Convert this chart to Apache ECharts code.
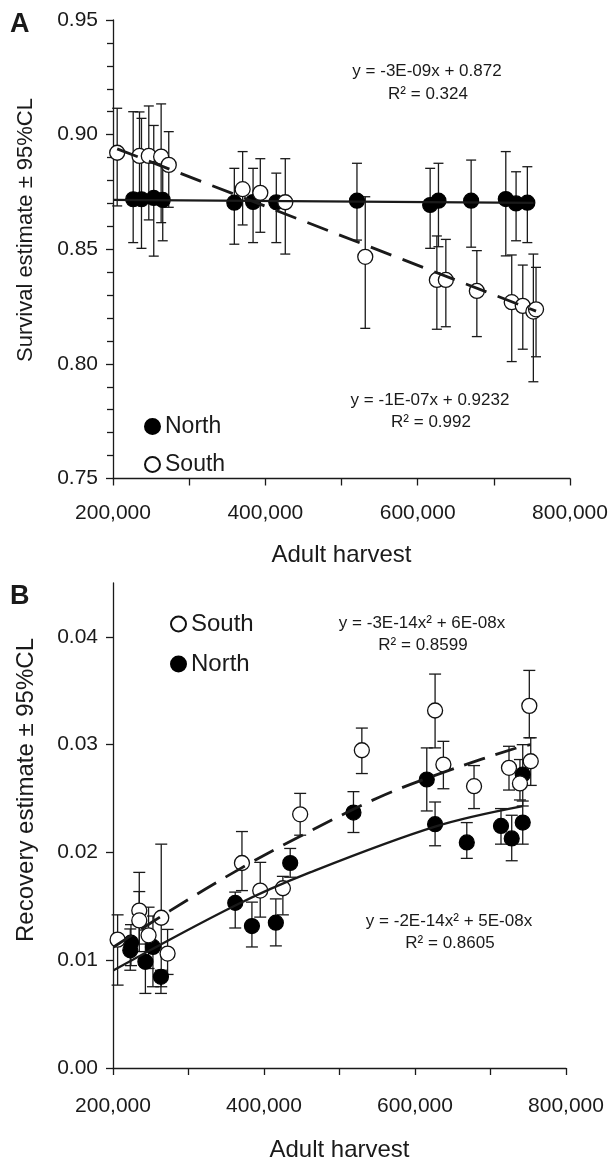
<!DOCTYPE html>
<html>
<head>
<meta charset="utf-8">
<script src="https://cdn.jsdelivr.net/npm/echarts@6/dist/echarts.min.js"></script>
<style>
  html, body { margin: 0; padding: 0; background: #fff; }
  #chart { width: 612px; height: 1163px; }
</style>
</head>
<body>
<div id="chart"></div>
<script>
// ---------- Panel A: survival estimate vs adult harvest ----------
const survNorthX  = [226500, 237400, 253500, 265300, 359300, 383900, 414400, 520300, 616400, 627300, 670200, 715700, 729200, 744000];
const survNorthY  = [0.8718, 0.8718, 0.8724, 0.8715, 0.8703, 0.8706, 0.8705, 0.8712, 0.8693, 0.8712, 0.8712, 0.8719, 0.8700, 0.8703];
const survNorthLo = [0.8529, 0.8504, 0.8470, 0.8537, 0.8522, 0.8529, 0.8529, 0.8540, 0.8504, 0.8511, 0.8509, 0.8471, 0.8537, 0.8529];
const survNorthHi = [0.9100, 0.9071, 0.9040, 0.8895, 0.8853, 0.8853, 0.8832, 0.8875, 0.8853, 0.8875, 0.8889, 0.8926, 0.8838, 0.8860];

const survSouthX  = [205500, 234800, 247000, 263200, 273200, 370200, 393400, 426200, 531200, 625200, 637000, 677700, 723500, 738000, 751900, 755400];
const survSouthY  = [0.8921, 0.8907, 0.8907, 0.8904, 0.8868, 0.8762, 0.8746, 0.8705, 0.8467, 0.8366, 0.8366, 0.8318, 0.8269, 0.8253, 0.8228, 0.8238];
const survSouthLo = [0.8689, 0.8700, 0.8628, 0.8616, 0.8683, 0.8606, 0.8574, 0.8479, 0.8155, 0.8151, 0.8162, 0.8119, 0.8010, 0.8064, 0.7922, 0.8031];
const survSouthHi = [0.9115, 0.9099, 0.9125, 0.9134, 0.9013, 0.8926, 0.8895, 0.8895, 0.8729, 0.8558, 0.8543, 0.8494, 0.8475, 0.8431, 0.8479, 0.8421];

// fitted trend lines (end points)
const survNorthFitX = [200000, 752000];
const survNorthFitY = [0.8715, 0.8702];
const survSouthFitX = [205500, 755400];
const survSouthFitY = [0.8938, 0.8230];

const survTicks = [0.75, 0.80, 0.85, 0.90, 0.95];

// ---------- Panel B: recovery estimate vs adult harvest ----------
const recNorthX  = [223800, 222900, 242900, 252900, 263500, 361900, 384000, 415700, 434700, 518500, 615600, 626600, 668600, 713900, 728100, 742700, 742700];
const recNorthY  = [0.01163, 0.01092, 0.00985, 0.01123, 0.00846, 0.01532, 0.01317, 0.01348, 0.01902, 0.02370, 0.02677, 0.02262, 0.02093, 0.02246, 0.02130, 0.02277, 0.02723];
const recNorthLo = [0.00950, 0.00907, 0.00692, 0.00754, 0.00692, 0.01299, 0.01123, 0.01133, 0.01770, 0.02185, 0.02385, 0.02062, 0.01945, 0.02077, 0.01923, 0.02077, 0.02431];
const recNorthHi = [0.01330, 0.01290, 0.01280, 0.01410, 0.00907, 0.01632, 0.01539, 0.01569, 0.02037, 0.02564, 0.02970, 0.02468, 0.02277, 0.02407, 0.02345, 0.02477, 0.03000];

const recSouthX  = [206100, 234800, 234800, 247100, 263900, 272300, 370800, 395000, 425000, 447900, 529600, 626600, 637600, 678200, 724500, 739000, 751400, 753300];
const recSouthY  = [0.01191, 0.01461, 0.01369, 0.01231, 0.01394, 0.01062, 0.01902, 0.01646, 0.01668, 0.02354, 0.02948, 0.03317, 0.02815, 0.02615, 0.02785, 0.02640, 0.03360, 0.02846];
const recSouthLo = [0.00769, 0.01150, 0.01080, 0.00923, 0.00754, 0.00868, 0.01646, 0.01400, 0.01421, 0.02160, 0.02732, 0.02970, 0.02591, 0.02407, 0.02579, 0.02487, 0.03064, 0.02622];
const recSouthHi = [0.01421, 0.01815, 0.01637, 0.01492, 0.02077, 0.01286, 0.02194, 0.01908, 0.01778, 0.02548, 0.03154, 0.03655, 0.03031, 0.02806, 0.02985, 0.02862, 0.03689, 0.03064];

// quadratic trend curves, sampled along their path
const recNorthFitX = [200800, 361900, 461000, 626600, 742700];
const recNorthFitY = [0.00907, 0.01508, 0.01815, 0.02240, 0.02430];
const recSouthFitX = [200800, 275800, 368600, 448000, 551800, 642100, 734700, 753300];
const recSouthFitY = [0.01123, 0.01460, 0.01850, 0.02150, 0.02510, 0.02754, 0.02970, 0.03000];

const recTicks = [0.00, 0.01, 0.02, 0.03, 0.04];
const harvestTicks = [200000, 400000, 600000, 800000];

// ---------- helpers ----------
const FONT = 'Liberation Sans, Arial, sans-serif';
const INK = '#1a1a1a';
const zip2 = (a, b) => a.map((v, i) => [v, b[i]]);
const zip3 = (a, b, c) => a.map((v, i) => [v, b[i], c[i]]);

function errorBars(capHalf) {
  return function (params, api) {
    const x = api.value(0);
    const lo = api.coord([x, api.value(1)]);
    const hi = api.coord([x, api.value(2)]);
    const style = { stroke: INK, lineWidth: 1.3, fill: null };
    return {
      type: 'group',
      children: [
        { type: 'line', shape: { x1: lo[0], y1: lo[1], x2: hi[0], y2: hi[1] }, style },
        { type: 'line', shape: { x1: lo[0] - capHalf, y1: lo[1], x2: lo[0] + capHalf, y2: lo[1] }, style },
        { type: 'line', shape: { x1: hi[0] - capHalf, y1: hi[1], x2: hi[0] + capHalf, y2: hi[1] }, style }
      ]
    };
  };
}

const axisLine = { show: true, onZero: false, lineStyle: { color: INK, width: 1.3 } };
const tickStyle = { color: INK, width: 1.3 };

function harvestAxis(gridIndex, margin, nameGap) {
  return {
    gridIndex, type: 'value', min: 200000, max: 800000, interval: 200000,
    axisLine,
    axisTick: { show: true, length: 7, lineStyle: tickStyle },
    minorTick: { show: true, splitNumber: 2, length: 7, lineStyle: tickStyle },
    splitLine: { show: false }, minorSplitLine: { show: false },
    axisLabel: {
      margin, fontSize: 21, color: INK, fontFamily: FONT,
      customValues: harvestTicks,
      formatter: v => Number(v).toLocaleString('en-US')
    },
    name: 'Adult harvest', nameLocation: 'middle', nameGap,
    nameTextStyle: { fontSize: 24, color: INK, fontFamily: FONT }
  };
}

const northStyle = { color: '#000', borderColor: '#000', borderWidth: 1.2, opacity: 1 };
const southStyle = { color: '#fff', borderColor: '#111', borderWidth: 1.3, opacity: 1 };

const chart = echarts.init(document.getElementById('chart'), null, { renderer: 'canvas' });

chart.setOption({
  animation: false,
  backgroundColor: '#fff',
  grid: [
    { left: 113, right: 42, top: 20, height: 458.5 },
    { left: 113, right: 46, top: 583, height: 487 }
  ],
  xAxis: [harvestAxis(0, 24, 65), harvestAxis(1, 28, 70)],
  yAxis: [
    {
      gridIndex: 0, type: 'value', min: 0.75, max: 0.95, interval: 0.05,
      axisLine,
      axisTick: { show: true, length: 7, lineStyle: tickStyle },
      minorTick: { show: true, splitNumber: 5, length: 6, lineStyle: tickStyle },
      splitLine: { show: false }, minorSplitLine: { show: false },
      axisLabel: {
        margin: 15, fontSize: 21, color: INK, fontFamily: FONT,
        customValues: survTicks, formatter: v => Number(v).toFixed(2)
      }
    },
    {
      gridIndex: 1, type: 'value', min: 0, max: 0.045,
      axisLine,
      axisTick: { show: true, length: 7, lineStyle: tickStyle, customValues: recTicks },
      splitLine: { show: false },
      axisLabel: {
        margin: 15, fontSize: 21, color: INK, fontFamily: FONT,
        customValues: recTicks, formatter: v => Number(v).toFixed(2)
      }
    }
  ],
  legend: [
    {
      data: ['North', 'South'], orient: 'vertical', left: 139, top: 410,
      itemWidth: 15, itemHeight: 15, itemGap: 15, icon: 'circle', selectedMode: false,
      textStyle: { fontSize: 23, color: INK, fontFamily: FONT }
    },
    {
      data: ['South', 'North'], orient: 'vertical', left: 165, top: 607,
      itemWidth: 15, itemHeight: 15, itemGap: 16, icon: 'circle', selectedMode: false,
      textStyle: { fontSize: 24, color: INK, fontFamily: FONT }
    }
  ],
  graphic: [
    { type: 'text', left: 10, top: 11, style: { text: 'A', font: 'bold 27px ' + FONT, fill: INK } },
    { type: 'text', left: 10, top: 583, style: { text: 'B', font: 'bold 27px ' + FONT, fill: INK } },
    { type: 'text', x: 26, y: 230, rotation: Math.PI / 2,
      style: { text: 'Survival estimate ± 95%CL', font: '22px ' + FONT, fill: INK, align: 'center', verticalAlign: 'middle' } },
    { type: 'text', x: 26, y: 790, rotation: Math.PI / 2,
      style: { text: 'Recovery estimate ± 95%CL', font: '24px ' + FONT, fill: INK, align: 'center', verticalAlign: 'middle' } },
    { type: 'text', x: 427, y: 71, style: { text: 'y = -3E-09x + 0.872', font: '17px ' + FONT, fill: INK, align: 'center', verticalAlign: 'middle' } },
    { type: 'text', x: 428, y: 94, style: { text: 'R² = 0.324', font: '17px ' + FONT, fill: INK, align: 'center', verticalAlign: 'middle' } },
    { type: 'text', x: 430, y: 400, style: { text: 'y = -1E-07x + 0.9232', font: '17px ' + FONT, fill: INK, align: 'center', verticalAlign: 'middle' } },
    { type: 'text', x: 431, y: 422, style: { text: 'R² = 0.992', font: '17px ' + FONT, fill: INK, align: 'center', verticalAlign: 'middle' } },
    { type: 'text', x: 422, y: 623, style: { text: 'y = -3E-14x² + 6E-08x', font: '17px ' + FONT, fill: INK, align: 'center', verticalAlign: 'middle' } },
    { type: 'text', x: 423, y: 645, style: { text: 'R² = 0.8599', font: '17px ' + FONT, fill: INK, align: 'center', verticalAlign: 'middle' } },
    { type: 'text', x: 449, y: 921, style: { text: 'y = -2E-14x² + 5E-08x', font: '17px ' + FONT, fill: INK, align: 'center', verticalAlign: 'middle' } },
    { type: 'text', x: 450, y: 943, style: { text: 'R² = 0.8605', font: '17px ' + FONT, fill: INK, align: 'center', verticalAlign: 'middle' } }
  ],
  series: [
    // Panel A
    { type: 'custom', name: 'North CL A', xAxisIndex: 0, yAxisIndex: 0, z: 1, silent: true,
      renderItem: errorBars(5), encode: { x: 0, y: [1, 2] }, data: zip3(survNorthX, survNorthLo, survNorthHi) },
    { type: 'custom', name: 'South CL A', xAxisIndex: 0, yAxisIndex: 0, z: 1, silent: true,
      renderItem: errorBars(5), encode: { x: 0, y: [1, 2] }, data: zip3(survSouthX, survSouthLo, survSouthHi) },
    { type: 'scatter', name: 'North', xAxisIndex: 0, yAxisIndex: 0, z: 3, symbol: 'circle', symbolSize: 15,
      itemStyle: northStyle, data: zip2(survNorthX, survNorthY) },
    { type: 'scatter', name: 'South', xAxisIndex: 0, yAxisIndex: 0, z: 3, symbol: 'circle', symbolSize: 15,
      itemStyle: southStyle, data: zip2(survSouthX, survSouthY) },
    { type: 'line', name: 'North fit A', xAxisIndex: 0, yAxisIndex: 0, z: 4, showSymbol: false, silent: true,
      lineStyle: { color: INK, width: 2.3 }, data: zip2(survNorthFitX, survNorthFitY) },
    { type: 'line', name: 'South fit A', xAxisIndex: 0, yAxisIndex: 0, z: 4, showSymbol: false, silent: true,
      lineStyle: { color: INK, width: 2.8, type: [22, 12] }, data: zip2(survSouthFitX, survSouthFitY) },

    // Panel B
    { type: 'custom', name: 'North CL B', xAxisIndex: 1, yAxisIndex: 1, z: 1, silent: true,
      renderItem: errorBars(6), encode: { x: 0, y: [1, 2] }, data: zip3(recNorthX, recNorthLo, recNorthHi) },
    { type: 'custom', name: 'South CL B', xAxisIndex: 1, yAxisIndex: 1, z: 1, silent: true,
      renderItem: errorBars(6), encode: { x: 0, y: [1, 2] }, data: zip3(recSouthX, recSouthLo, recSouthHi) },
    { type: 'scatter', name: 'North', xAxisIndex: 1, yAxisIndex: 1, z: 3, symbol: 'circle', symbolSize: 15,
      itemStyle: northStyle, data: zip2(recNorthX, recNorthY) },
    { type: 'scatter', name: 'South', xAxisIndex: 1, yAxisIndex: 1, z: 3, symbol: 'circle', symbolSize: 15,
      itemStyle: southStyle, data: zip2(recSouthX, recSouthY) },
    { type: 'line', name: 'North fit B', xAxisIndex: 1, yAxisIndex: 1, z: 4, showSymbol: false, silent: true,
      smooth: 0.35, lineStyle: { color: INK, width: 2.3 }, data: zip2(recNorthFitX, recNorthFitY) },
    { type: 'line', name: 'South fit B', xAxisIndex: 1, yAxisIndex: 1, z: 4, showSymbol: false, silent: true,
      smooth: 0.35, lineStyle: { color: INK, width: 2.8, type: [22, 11] }, data: zip2(recSouthFitX, recSouthFitY) }
  ]
});
</script>
</body>
</html>
